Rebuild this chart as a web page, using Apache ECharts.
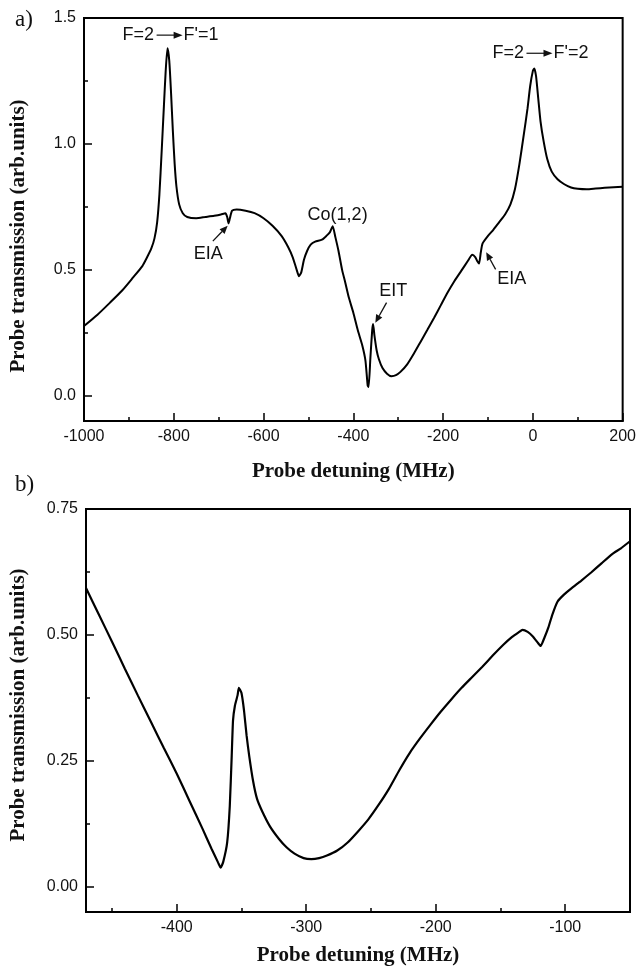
<!DOCTYPE html>
<html><head><meta charset="utf-8">
<script src="https://cdn.jsdelivr.net/npm/echarts@6/dist/echarts.min.js"></script>
<style>html,body{margin:0;padding:0;background:#fff}#c{width:639px;height:969px}</style>
</head><body><div id="c"></div>
<script>
// ---- Panel a) data ----
const aDetuning = [-1000,-970,-942,-915,-891,-870,-860,-850,-843,-837,-832,-827,-822,-818,-814,-810,-806,-802,-798,-794,-788,-780,-770,-750,-730,-710,-695,-685,-681,-678,-675,-670,-660,-640,-620,-600,-580,-560,-545,-535,-527,-521,-516,-510,-503,-495,-485,-470,-460,-452,-446,-440,-433,-425,-418,-410,-400,-390,-380,-373,-368,-366,-362,-358,-356,-353,-348,-343,-335,-325,-315,-305,-295,-280,-265,-250,-235,-220,-205,-190,-175,-160,-145,-135,-128,-124,-120,-116,-112,-100,-90,-75,-62,-50,-40,-30,-20,-12,-6,0,3,7,12,17,24,32,42,55,70,85,100,120,140,160,180,200];
const aTransmission = [0.277,0.322,0.37,0.418,0.469,0.515,0.548,0.585,0.625,0.69,0.8,0.97,1.15,1.29,1.38,1.33,1.2,1.05,0.92,0.83,0.76,0.725,0.71,0.705,0.71,0.715,0.72,0.725,0.71,0.685,0.705,0.735,0.74,0.735,0.725,0.705,0.675,0.635,0.59,0.55,0.505,0.475,0.49,0.54,0.575,0.6,0.612,0.62,0.635,0.65,0.673,0.63,0.575,0.5,0.45,0.39,0.33,0.26,0.2,0.14,0.04,0.035,0.15,0.26,0.285,0.24,0.18,0.145,0.11,0.088,0.078,0.082,0.095,0.125,0.168,0.215,0.262,0.31,0.36,0.41,0.455,0.495,0.535,0.56,0.55,0.535,0.525,0.57,0.605,0.635,0.655,0.69,0.72,0.76,0.82,0.92,1.04,1.14,1.23,1.29,1.30,1.27,1.18,1.09,1.01,0.94,0.89,0.86,0.84,0.827,0.822,0.82,0.823,0.826,0.828,0.83];

// ---- Panel b) data ----
const bDetuning = [-470,-460,-450,-440,-430,-420,-410,-400,-390,-380,-373,-368,-366,-364,-361,-359,-357.5,-356.5,-355,-353,-352,-350,-348,-346,-344,-341,-338,-334,-328,-321,-315,-309,-302,-296,-290,-284,-276,-268,-260,-252,-244,-236,-228,-220,-212,-204,-196,-188,-180,-172,-164,-156,-148,-141,-136,-133,-129,-125,-121,-119,-116,-113,-110,-106,-101,-95,-88,-80,-72,-64,-57,-50];
const bTransmission = [0.593,0.54,0.487,0.433,0.38,0.328,0.276,0.225,0.17,0.115,0.075,0.048,0.038,0.05,0.088,0.16,0.26,0.33,0.36,0.38,0.395,0.385,0.35,0.3,0.26,0.21,0.175,0.15,0.12,0.095,0.078,0.066,0.057,0.055,0.057,0.062,0.072,0.088,0.11,0.134,0.163,0.195,0.232,0.266,0.295,0.322,0.348,0.372,0.395,0.416,0.437,0.459,0.48,0.496,0.505,0.51,0.506,0.497,0.484,0.478,0.495,0.515,0.54,0.566,0.58,0.593,0.607,0.624,0.642,0.66,0.672,0.686];

// ---- Tick values ----
const aXTicks = [-1000,-800,-600,-400,-200,0,200];
const aYMajor = [0,0.5,1.0,1.5];
const aYMinor = [0.25,0.75,1.25];
const bXMajor = [-400,-300,-200,-100];
const bXMinor = [-450,-350,-250,-150];
const bYMajor = [0,0.25,0.5,0.75];
const bYMinor = [0.125,0.375,0.625];

// ---- Annotations (data coords of panel a) ----
const annoTexts = [
  {text:'EIA', x:-723, y:0.561},
  {text:'Co(1,2)', x:-435, y:0.719},
  {text:'EIT', x:-311, y:0.416},
  {text:'EIA', x:-47, y:0.462}
];
const annoArrows = [
  {tail:[-713,0.614], head:[-680,0.675]},
  {tail:[-326,0.37], head:[-351,0.29]},
  {tail:[-83,0.502], head:[-104,0.57]}
];
const transLabels = [
  {from:'F=2', to:"F'=1", x:-914, y:1.432},
  {from:'F=2', to:"F'=2", x:-90, y:1.36}
];

const zip = (xs, ys) => xs.map((x,i)=>[x, ys[i]]);
const SANS = '"Liberation Sans", Arial, sans-serif';
const SERIF = '"Liberation Serif", "Times New Roman", serif';
const lbl = {color:'#111', fontSize:16, fontFamily:SANS, margin:8};
const axLine = {show:true, onZero:false, lineStyle:{color:'#000', width:2}};
const tickStyle = {color:'#000', width:1.5};
const nameStyle = {color:'#111', fontSize:21, fontWeight:'bold', fontFamily:SERIF};

const chart = echarts.init(document.getElementById('c'), null, {renderer:'canvas'});
chart.setOption({
  animation:false,
  backgroundColor:'#fff',
  grid:[
    {left:84, top:18, width:542, height:403, show:true, borderColor:'#000', borderWidth:2, containLabel:false},
    {left:86, top:509, width:544, height:403, show:true, borderColor:'#000', borderWidth:2, containLabel:false}
  ],
  xAxis:[
    {type:'value', gridIndex:0, min:-1000, max:200, interval:200,
     axisLine:axLine, axisTick:{inside:true, length:8, lineStyle:tickStyle},
     minorTick:{show:true, splitNumber:2, length:4, lineStyle:tickStyle},
     axisLabel:Object.assign({customValues:aXTicks, formatter:v=>String(v)}, lbl), splitLine:{show:false}, minorSplitLine:{show:false},
     name:'Probe detuning (MHz)', nameLocation:'middle', nameGap:40, nameTextStyle:nameStyle},
    {type:'value', gridIndex:1, min:-470, max:-50,
     axisLine:axLine, axisTick:{inside:true, length:8, lineStyle:tickStyle, customValues:bXMajor},
     axisLabel:Object.assign({customValues:bXMajor, formatter:v=>String(v)}, lbl), splitLine:{show:false},
     name:'Probe detuning (MHz)', nameLocation:'middle', nameGap:33, nameTextStyle:nameStyle},
    {type:'value', gridIndex:1, min:-470, max:-50, position:'bottom',
     axisLine:{show:false, onZero:false}, axisTick:{inside:true, length:4, lineStyle:tickStyle, customValues:bXMinor},
     axisLabel:{show:false}, splitLine:{show:false}}
  ],
  yAxis:[
    {type:'value', gridIndex:0, min:-0.1, max:1.5, position:'left',
     axisLine:axLine, axisTick:{inside:true, length:8, lineStyle:tickStyle, customValues:aYMajor},
     axisLabel:Object.assign({customValues:aYMajor, formatter:v=>Number(v).toFixed(1)}, lbl), splitLine:{show:false}},
    {type:'value', gridIndex:0, min:-0.1, max:1.5, position:'left', offset:0,
     axisLine:{show:false, onZero:false}, axisTick:{inside:true, length:4, lineStyle:tickStyle, customValues:aYMinor},
     axisLabel:{show:false}, splitLine:{show:false}},
    {type:'value', gridIndex:1, min:-0.05, max:0.75, position:'left',
     axisLine:axLine, axisTick:{inside:true, length:8, lineStyle:tickStyle, customValues:bYMajor},
     axisLabel:Object.assign({customValues:bYMajor, formatter:v=>Number(v).toFixed(2)}, lbl), splitLine:{show:false}},
    {type:'value', gridIndex:1, min:-0.05, max:0.75, position:'left', offset:0,
     axisLine:{show:false, onZero:false}, axisTick:{inside:true, length:4, lineStyle:tickStyle, customValues:bYMinor},
     axisLabel:{show:false}, splitLine:{show:false}}
  ],
  series:[
    {type:'line', xAxisIndex:0, yAxisIndex:0, data:zip(aDetuning, aTransmission), showSymbol:false, smooth:0.2,
     lineStyle:{color:'#000', width:2}, silent:true},
    {type:'line', xAxisIndex:1, yAxisIndex:2, data:zip(bDetuning, bTransmission), showSymbol:false, smooth:0.15,
     lineStyle:{color:'#000', width:2.2}, silent:true}
  ]
});

// ---- Annotation graphics, positioned through the panel a) coordinate system ----
const px = p => chart.convertToPixel({xAxisIndex:0, yAxisIndex:0}, p);
const g = [];
const ANNO_FONT = '18px ' + SANS;
annoTexts.forEach(a=>{
  const [x,y] = px([a.x, a.y]);
  g.push({type:'text', x, y, style:{text:a.text, fill:'#111', font:ANNO_FONT, align:'center', verticalAlign:'middle', textAlign:'center', textVerticalAlign:'middle'}});
});
annoArrows.forEach(a=>{
  const [tx,ty] = px(a.tail), [hx,hy] = px(a.head);
  const dx = hx-tx, dy = hy-ty, L = Math.hypot(dx,dy), ux = dx/L, uy = dy/L;
  const hl = 8, hw = 3.5;
  const bx = hx-ux*hl, by = hy-uy*hl;
  g.push({type:'line', shape:{x1:tx, y1:ty, x2:bx, y2:by}, style:{stroke:'#111', lineWidth:1.3}});
  g.push({type:'polygon', shape:{points:[[hx,hy],[bx-uy*hw, by+ux*hw],[bx+uy*hw, by-ux*hw]]}, style:{fill:'#111'}});
});
transLabels.forEach(t=>{
  const [x,y] = px([t.x, t.y]);
  g.push({type:'text', x, y, style:{text:t.from, fill:'#111', font:ANNO_FONT, align:'left', verticalAlign:'middle', textAlign:'left', textVerticalAlign:'middle'}});
  g.push({type:'line', shape:{x1:x+34, y1:y, x2:x+52, y2:y}, style:{stroke:'#111', lineWidth:1.2}});
  g.push({type:'polygon', shape:{points:[[x+60,y],[x+51,y-3.5],[x+51,y+3.5]]}, style:{fill:'#111'}});
  g.push({type:'text', x:x+61, y, style:{text:t.to, fill:'#111', font:ANNO_FONT, align:'left', verticalAlign:'middle', textAlign:'left', textVerticalAlign:'middle'}});
});
// y-axis titles and panel letters
const yTitle = (cy) => ({type:'text', x:19, y:cy, rotation:Math.PI/2,
  style:{text:'Probe transmission (arb.units)', fill:'#111', font:'bold 21px ' + SERIF, align:'center', verticalAlign:'middle', textAlign:'center', textVerticalAlign:'middle'}});
g.push(yTitle(236));
g.push(yTitle(705));
g.push({type:'text', x:15, y:20, style:{text:'a)', fill:'#111', font:'23px ' + SERIF, align:'left', verticalAlign:'middle', textAlign:'left', textVerticalAlign:'middle'}});
g.push({type:'text', x:15, y:485, style:{text:'b)', fill:'#111', font:'23px ' + SERIF, align:'left', verticalAlign:'middle', textAlign:'left', textVerticalAlign:'middle'}});
chart.setOption({graphic:{elements:g}});
</script>
</body></html>
